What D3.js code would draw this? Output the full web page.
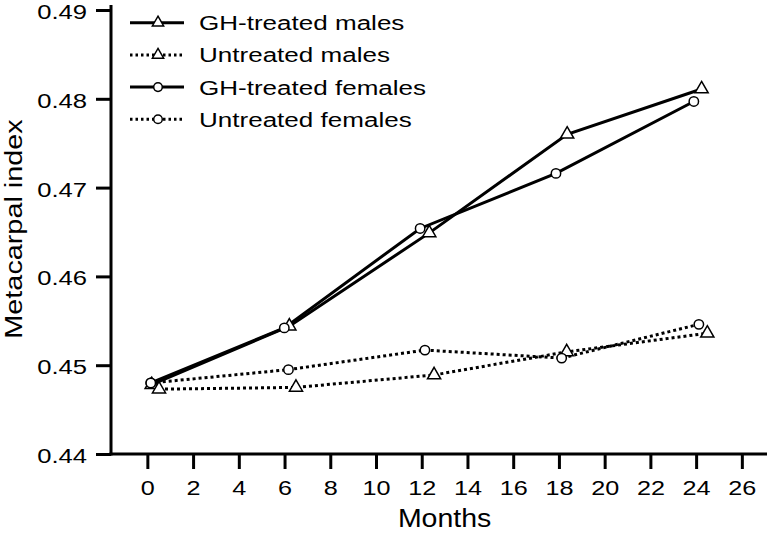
<!DOCTYPE html>
<html>
<head>
<meta charset="utf-8">
<script src="https://cdn.jsdelivr.net/npm/d3@7"></script>
<style>
  body { margin: 0; background: #fff; overflow: hidden; }
  svg { display: block; font-family: "Liberation Sans", Arial, Helvetica, sans-serif; }
</style>
</head>
<body>
<div id="chart"></div>
<script>
// Data (months are slightly offset per series in the original)
const xTicks = [0, 2, 4, 6, 8, 10, 12, 14, 16, 18, 20, 22, 24, 26];
const yTicks = [0.44, 0.45, 0.46, 0.47, 0.48, 0.49];

const ghMalesMonths = [0.19, 6.21, 12.33, 18.36, 24.24];
const ghMalesValues = [0.4478, 0.4544, 0.4649, 0.4760, 0.4811];

const untreatedMalesMonths = [0.51, 6.5, 12.54, 18.34, 24.49];
const untreatedMalesValues = [0.4473, 0.4475, 0.4489, 0.4515, 0.4536];

const ghFemalesMonths = [0.15, 5.99, 11.93, 17.87, 23.9];
const ghFemalesValues = [0.4480, 0.4542, 0.4654, 0.4716, 0.4797];

const untreatedFemalesMonths = [0.15, 6.17, 12.14, 18.12, 24.12];
const untreatedFemalesValues = [0.4480, 0.4495, 0.4517, 0.4508, 0.4546];

const seriesNames = ["GH-treated males", "Untreated males", "GH-treated females", "Untreated females"];

// Build series table from the arrays
const series = [
  { name: seriesNames[0], months: ghMalesMonths, values: ghMalesValues, marker: "triangle", dotted: false },
  { name: seriesNames[1], months: untreatedMalesMonths, values: untreatedMalesValues, marker: "triangle", dotted: true },
  { name: seriesNames[2], months: ghFemalesMonths, values: ghFemalesValues, marker: "circle", dotted: false },
  { name: seriesNames[3], months: untreatedFemalesMonths, values: untreatedFemalesValues, marker: "circle", dotted: true }
].map(s => ({ ...s, points: s.months.map((m, i) => ({ month: m, value: s.values[i] })) }));

const width = 767;
const height = 533;

const svg = d3.select("#chart")
  .append("svg")
  .attr("width", width)
  .attr("height", height);

// Scales
const x = d3.scaleLinear().domain([-1.59, 27.1]).range([111, 767]);
const y = d3.scaleLinear().domain([0.44, 0.49]).range([454, 10]);

// Stretch text horizontally around its anchor (original font is wide)
function stretch(sel, k) {
  sel.each(function() {
    const t = d3.select(this);
    const ax = +t.attr("x") || 0;
    t.attr("transform", `translate(${ax},0) scale(${k},1) translate(${-ax},0)`);
  });
}

// Y axis
const yAxis = svg.append("g")
  .attr("transform", "translate(111,0)")
  .call(d3.axisLeft(y).tickValues(yTicks).tickFormat(d3.format(".2f")).tickSize(15).tickPadding(9).tickSizeOuter(0));
yAxis.select(".domain").remove();
yAxis.selectAll(".tick line").attr("stroke", "#000").attr("stroke-width", 3);
yAxis.selectAll(".tick text")
  .attr("font-size", 21)
  .attr("dy", "0.4em")
  .attr("font-family", "Liberation Sans, Arial, sans-serif")
  .attr("fill", "#000")
  .call(stretch, 1.22);

// X axis
const xAxis = svg.append("g")
  .attr("transform", "translate(0,454)")
  .call(d3.axisBottom(x).tickValues(xTicks).tickSize(15).tickPadding(11).tickSizeOuter(0));
xAxis.select(".domain").remove();
xAxis.selectAll(".tick line").attr("stroke", "#000").attr("stroke-width", 3);
xAxis.selectAll(".tick text")
  .attr("font-size", 21)
  .attr("font-family", "Liberation Sans, Arial, sans-serif")
  .attr("fill", "#000")
  .attr("transform", "scale(1.2,1)");

// Axis lines
svg.append("line")
  .attr("x1", 111).attr("x2", 111)
  .attr("y1", 5).attr("y2", 455.5)
  .attr("stroke", "#000").attr("stroke-width", 3);
svg.append("line")
  .attr("x1", 109.5).attr("x2", 767)
  .attr("y1", 454).attr("y2", 454)
  .attr("stroke", "#000").attr("stroke-width", 3);

// Axis titles
svg.append("text")
  .attr("transform", `translate(${x(13)},527) scale(1.14,1)`)
  .attr("text-anchor", "middle")
  .attr("font-size", 25)
  .text("Months");

svg.append("text")
  .attr("transform", "translate(21.5,229) rotate(-90) scale(1.2,1)")
  .attr("text-anchor", "middle")
  .attr("font-size", 24)
  .text("Metacarpal index");

// Lines
const line = d3.line()
  .x(d => x(d.month))
  .y(d => y(d.value));

const triangle = d3.symbol().type(d3.symbolTriangle).size(75);
const triangleSmall = d3.symbol().type(d3.symbolTriangle).size(55);

svg.append("g")
  .selectAll("path")
  .data(series)
  .join("path")
  .attr("d", d => line(d.points))
  .attr("fill", "none")
  .attr("stroke", "#000")
  .attr("stroke-width", 3)
  .attr("stroke-dasharray", d => d.dotted ? "3,3" : null);

// Markers
const markers = svg.append("g")
  .selectAll("g")
  .data(series)
  .join("g");

markers.each(function(s) {
  const g = d3.select(this);
  if (s.marker === "triangle") {
    g.selectAll("path")
      .data(s.points)
      .join("path")
      .attr("d", triangle)
      .attr("transform", d => `translate(${x(d.month)},${y(d.value)})`)
      .attr("fill", "#fff")
      .attr("stroke", "#000")
      .attr("stroke-width", 1.5);
  } else {
    g.selectAll("circle")
      .data(s.points)
      .join("circle")
      .attr("cx", d => x(d.month))
      .attr("cy", d => y(d.value))
      .attr("r", 4.7)
      .attr("fill", "#fff")
      .attr("stroke", "#000")
      .attr("stroke-width", 1.5);
  }
});

// Legend
const legend = svg.append("g")
  .selectAll("g")
  .data(series)
  .join("g")
  .attr("transform", (d, i) => `translate(130,${22.7 + i * 32.2})`);

legend.append("line")
  .attr("x1", 0).attr("x2", 54)
  .attr("y1", 0).attr("y2", 0)
  .attr("stroke", "#000")
  .attr("stroke-width", 3)
  .attr("stroke-dasharray", d => d.dotted ? "2.5,3" : null);

legend.each(function(s) {
  const g = d3.select(this);
  if (s.marker === "triangle") {
    g.append("path")
      .attr("d", triangleSmall)
      .attr("transform", "translate(28,0)")
      .attr("fill", "#fff")
      .attr("stroke", "#000")
      .attr("stroke-width", 1.5);
  } else {
    g.append("circle")
      .attr("cx", 28).attr("cy", 0).attr("r", 4.3)
      .attr("fill", "#fff")
      .attr("stroke", "#000")
      .attr("stroke-width", 1.5);
  }
});

legend.append("text")
  .attr("transform", "translate(69,0) scale(1.24,1)")
  .attr("dy", "0.36em")
  .attr("font-size", 21)
  .text(d => d.name);
</script>
</body>
</html>
